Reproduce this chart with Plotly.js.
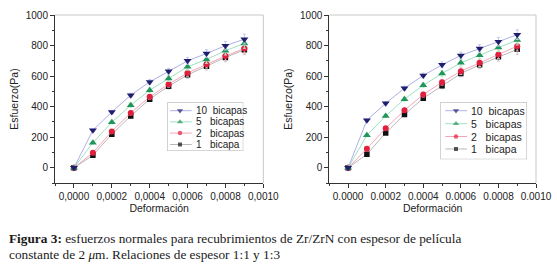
<!DOCTYPE html>
<html><head><meta charset="utf-8">
<script src="https://cdn.plot.ly/plotly-3.0.1.min.js"></script>
<style>html,body{margin:0;padding:0;background:#fff}</style>
</head><body><div id="chart" style="width:557px;height:266px"></div>
<script>
// ---------- DATA ----------
const strain = [0, 0.0001, 0.0002, 0.0003, 0.0004, 0.0005, 0.0006, 0.0007, 0.0008, 0.0009];
const seriesNames = ['10\u00a0\u00a0bicapas', '5\u00a0\u00a0\u00a0bicapas', '2\u00a0\u00a0\u00a0bicapas', '1\u00a0\u00a0\u00a0bicapa'];

// Relación 1:1 (left panel)
const left10 = [0, 245, 365, 475, 562, 632, 700, 748, 799, 842];
const left5  = [0, 164, 298, 409, 508, 584, 661, 709, 766, 814];
const left2  = [0,  98, 238, 359, 464, 547, 621, 678, 731, 781];
const left1  = [0,  81, 219, 339, 449, 534, 608, 665, 722, 772];

// Relación 1:3 (right panel)
const right10 = [0, 311, 422, 521, 604, 674, 735, 781, 825, 871];
const right5  = [0, 212, 339, 449, 540, 617, 687, 737, 788, 836];
const right2  = [0, 125, 258, 376, 479, 560, 632, 687, 742, 796];
const right1  = [0,  88, 228, 348, 455, 536, 617, 674, 726, 775];

// error bars (Pa)
const stressErr = [0, 8, 10, 13, 16, 19, 22, 25, 28, 32];

const xTickVals = [0, 0.0002, 0.0004, 0.0006, 0.0008, 0.0010];
const xTickTextLeft  = ['0,0000', '0,0002', '0,0004', '0,0006', '0,0008', '0,0010'];
const xTickTextRight = ['0.0000', '0.0002', '0.0004', '0.0006', '0.0008', '0.0010'];
const yTickVals = [0, 200, 400, 600, 800, 1000];
const xTitle = 'Deformación';
const yTitle = 'Esfuerzo(Pa)';
const captionLines = [
  '<b>Figura 3:</b> esfuerzos normales para recubrimientos de Zr/ZrN con espesor de película',
  'constante de 2 <i>μ</i>m. Relaciones de espesor 1:1 y 1:3'
];

// ---------- STYLE ----------
const markerColors = ['#1f1f70', '#22965a', '#e0203c', '#111111'];
const lineColors   = ['#aeb0e6', '#9fe0c0', '#f4a6b6', '#b8b8b8'];
const errColors    = ['#c4c6ee', '#b4e8cc', '#f6bcc8', '#c8c8c8'];
const symbols      = ['triangle-down', 'triangle-up', 'circle', 'square'];
const sizes        = [7, 7, 6, 5.5];
const FONT = 'Liberation Sans';

const panels = [
  {xa: 'x', ya: 'y', data: [left10, left5, left2, left1]},
  {xa: 'x2', ya: 'y2', data: [right10, right5, right2, right1]}
];

const traces = [];
panels.forEach(p => {
  for (let i = 3; i >= 0; i--) {
    traces.push({
      type: 'scatter', mode: 'lines+markers', x: strain, y: p.data[i],
      xaxis: p.xa, yaxis: p.ya, showlegend: false, hoverinfo: 'skip',
      line: {color: lineColors[i], width: 1},
      marker: {symbol: symbols[i], color: markerColors[i], size: sizes[i], line: {width: 0}},
      error_y: {type: 'data', array: stressErr, color: errColors[i], thickness: 1, width: 1.5}
    });
  }
});

// legends drawn on small overlay axes (pixel units inside the box)
const legends = [
  {xa: 'x3', ya: 'y3', w: 76, h: 48.7, rows: [8.4, 19.6, 30.8, 42.2], l0: 2.7, lm: 12.7, l1: 24.4, tx: 26.5, fs: 10},
  {xa: 'x4', ya: 'y4', w: 86.7, h: 57, rows: [8.4, 21.4, 34.2, 46.7], l0: 5, lm: 15.7, l1: 26.7, tx: 29, fs: 10.5}
];
const annotations = [];
const shapes = [];
legends.forEach(L => {
  for (let i = 0; i < 4; i++) {
    traces.push({
      type: 'scatter', mode: 'lines+markers', x: [L.l0, L.lm, L.l1], y: [L.rows[i], L.rows[i], L.rows[i]],
      xaxis: L.xa, yaxis: L.ya, showlegend: false, hoverinfo: 'skip', cliponaxis: false,
      line: {color: lineColors[i], width: 1},
      marker: {symbol: symbols[i], color: markerColors[i], size: [0, sizes[i] - 1.5, 0], line: {width: 0}}
    });
    annotations.push({xref: L.xa, yref: L.ya, x: L.tx, y: L.rows[i], text: seriesNames[i],
      showarrow: false, xanchor: 'left', yanchor: 'middle', font: {family: FONT, size: L.fs, color: '#222'}});
  }
  shapes.push({type: 'rect', xref: L.xa, yref: L.ya, x0: 0, x1: L.w, y0: 0, y1: L.h,
    line: {color: '#9a9a9a', width: 0.8}});
});

// light top/right frame lines
['x', 'x2'].forEach((xa, k) => {
  const ya = k === 0 ? 'y' : 'y2';
  shapes.push({type: 'line', xref: xa + ' domain', yref: ya + ' domain', x0: 0, x1: 1, y0: 1, y1: 1, line: {color: '#c8c8c8', width: 1}});
  shapes.push({type: 'line', xref: xa + ' domain', yref: ya + ' domain', x0: 1, x1: 1, y0: 0, y1: 1, line: {color: '#c8c8c8', width: 1}});
});

const captionY = [-0.3274, -0.4268];
captionLines.forEach((t, k) => {
  annotations.push({xref: 'paper', yref: 'paper', x: -0.0998, y: captionY[k], xanchor: 'left', yanchor: 'middle',
    align: 'left', showarrow: false, text: t,
    font: {family: 'Liberation Serif', size: 13.3, color: '#1a1a1a'}});
});

function xAxis(domain, ticktext) {
  return {domain: domain, range: [-0.0001, 0.001], showgrid: false, zeroline: false,
    showline: true, linecolor: '#333', linewidth: 1, mirror: false,
    ticks: 'outside', ticklen: 4, tickcolor: '#333', tickwidth: 1,
    tickmode: 'array', tickvals: xTickVals, ticktext: ticktext,
    minor: {ticks: 'outside', ticklen: 2, dtick: 0.0001, tickcolor: '#333', showgrid: false},
    tickfont: {family: FONT, size: 10, color: '#222'},
    title: {text: xTitle, font: {family: FONT, size: 10.5, color: '#222'}, standoff: 3}};
}
function yAxis(anchor) {
  return {anchor: anchor, domain: [0, 1], range: [-100, 1000], showgrid: false, zeroline: false,
    showline: true, linecolor: '#333', linewidth: 1, mirror: false,
    ticks: 'outside', ticklen: 4, tickcolor: '#333', tickwidth: 1,
    tickmode: 'array', tickvals: yTickVals,
    minor: {ticks: 'outside', ticklen: 2, dtick: 100, tickcolor: '#333', showgrid: false},
    tickfont: {family: FONT, size: 10, color: '#222'},
    title: {text: yTitle, font: {family: FONT, size: 10.5, color: '#222'}, standoff: 5}};
}
function hidden(domain, range, anchor) {
  return {domain: domain, range: range, visible: false, fixedrange: true, anchor: anchor};
}

const layout = {
  width: 557, height: 266, margin: {l: 55, r: 21, t: 15, b: 83},
  paper_bgcolor: '#fff', plot_bgcolor: '#fff', showlegend: false,
  xaxis: Object.assign(xAxis([0, 0.4331], xTickTextLeft), {anchor: 'y'}),
  yaxis: yAxis('x'),
  xaxis2: Object.assign(xAxis([0.5703, 1], xTickTextRight), {anchor: 'y2'}),
  yaxis2: yAxis('x2'),
  xaxis3: hidden([0.2335, 0.3915], [0, 76], 'y3'),
  yaxis3: hidden([0.1905, 0.4804], [48.7, 0], 'x3'),
  xaxis4: hidden([0.801, 0.9813], [0, 86.7], 'y4'),
  yaxis4: hidden([0.141, 0.4804], [57, 0], 'x4'),
  annotations: annotations, shapes: shapes
};

Plotly.newPlot('chart', traces, layout, {staticPlot: true, displayModeBar: false});
</script></body></html>
